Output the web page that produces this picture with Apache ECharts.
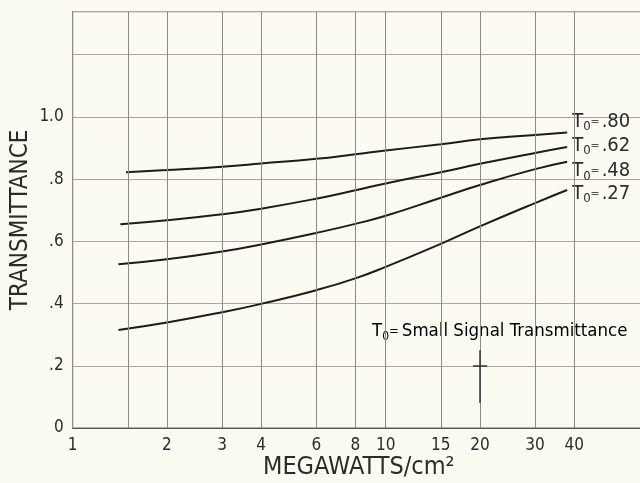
<!DOCTYPE html>
<html>
<head>
<meta charset="utf-8">
<title>Transmittance</title>
<script src="https://cdn.jsdelivr.net/npm/echarts@6/dist/echarts.min.js"></script>
<style>
html, body { margin: 0; padding: 0; background: #fbfbf2; }
#main { width: 640px; height: 483px; }
</style>
</head>
<body>
<div id="main"></div>
<script type="text/javascript">
// megawatts/cm2 readings and transmittance, one pair of arrays per T0 curve
var x80 = [1.48, 2, 3, 4, 6, 8, 10, 15, 20, 30, 38];
var t80 = [.822, .829, .840, .850, .865, .880, .892, .912, .928, .942, .950];
var x62 = [1.42, 2, 3, 4, 6, 8, 10, 15, 20, 30, 38];
var t62 = [.655, .668, .687, .705, .737, .764, .786, .822, .849, .884, .903];
var x48 = [1.4, 2, 3, 4, 6, 8, 10, 15, 20, 30, 38];
var t48 = [.526, .542, .567, .590, .627, .656, .682, .740, .781, .832, .856];
var x27 = [1.4, 2, 3, 4, 6, 8, 10, 15, 20, 30, 38];
var t27 = [.315, .339, .372, .399, .443, .481, .518, .592, .648, .723, .765];
var curveNames = ['.80', '.62', '.48', '.27'];

// x grid lines and their labels (1.5 has no label)
var xTicks = [1, 1.5, 2, 3, 4, 6, 8, 10, 15, 20, 30, 40];
var xTickLabels = ['1', '', '2', '3', '4', '6', '8', '10', '15', '20', '30', '40'];

var FONT = '"DejaVu Sans Condensed", "DejaVu Sans", sans-serif';
var INK = '#2b2b2b';

function pairs(xs, ys) {
    var out = [];
    for (var i = 0; i < xs.length; i++) out.push([xs[i], ys[i]]);
    return out;
}

var curveRich = {
    t: { fontFamily: FONT, fontSize: 20, color: INK },
    s: { fontFamily: FONT, fontSize: 13, color: INK, padding: [11, 0, 0, 0] },
    e: { fontFamily: FONT, fontSize: 12, color: '#555', padding: [0, 2, 0, 0] }
};
var noteRich = {
    t: { fontFamily: FONT, fontSize: 18.5, color: INK },
    s: { fontFamily: FONT, fontSize: 12, color: INK, padding: [10, 0, 0, 0] },
    e: { fontFamily: FONT, fontSize: 13, color: INK, padding: [0, 3, 0, 0] }
};

// vertical grid lines drawn at the log-axis values
var gridLines = [];
for (var i = 0; i < xTicks.length; i++) {
    gridLines.push({
        xAxis: xTicks[i],
        label: { show: xTickLabels[i] !== '', formatter: xTickLabels[i] }
    });
}
// leader mark under the note
var leader = { color: '#333', width: 1.5, type: 'solid' };
gridLines.push([{ coord: [20, 0.25], lineStyle: leader, label: { show: false } }, { coord: [20, 0.08] }]);
gridLines.push([{ coord: [19, 0.2], lineStyle: leader, label: { show: false } }, { coord: [21.1, 0.2] }]);

var labelOffsets = [-11, -1.5, 9, 3.5];
var xs = [x80, x62, x48, x27];
var ts = [t80, t62, t48, t27];
var series = [];
for (var k = 0; k < 4; k++) {
    series.push({
        name: curveNames[k],
        type: 'line',
        data: pairs(xs[k], ts[k]),
        smooth: 0.5,
        symbol: 'none',
        lineStyle: { color: '#1c1c1c', width: 2 },
        endLabel: {
            show: true,
            distance: 5,
            offset: [0, labelOffsets[k]],
            formatter: '{t|T}{s|0}{e|=}{t|' + curveNames[k] + '}',
            rich: curveRich
        },
        z: 3
    });
}
series.push({
    type: 'line',
    data: [],
    markLine: {
        silent: true,
        symbol: 'none',
        animation: false,
        lineStyle: { color: '#8e8a8a', width: 1, type: 'solid' },
        label: {
            position: 'start',
            distance: 9,
            color: INK,
            fontFamily: FONT,
            fontSize: 17
        },
        emphasis: { disabled: true },
        data: gridLines
    },
    z: 1
});

var chart = echarts.init(document.getElementById('main'));
chart.setOption({
    animation: false,
    backgroundColor: '#fbfbf2',
    grid: {
        left: 72.7, top: 11.7, bottom: 55, right: -58.7,
        outerBoundsMode: 'none',
        containLabel: false,
        show: true, borderColor: '#6f6b6b', borderWidth: 1
    },
    xAxis: {
        type: 'log', logBase: 10, min: 1, max: 100,
        axisLine: { show: true, lineStyle: { color: '#555', width: 1 } },
        axisTick: { show: false },
        axisLabel: { show: false },
        splitLine: { show: false }
    },
    yAxis: {
        type: 'value', min: 0, max: 1.338, interval: 0.2,
        name: 'TRANSMITTANCE',
        nameLocation: 'middle',
        nameGap: 40,
        nameMoveOverlap: false,
        nameTextStyle: { fontFamily: FONT, fontSize: 24, color: INK },
        axisLine: { show: true, lineStyle: { color: '#555', width: 1 } },
        axisTick: { show: false },
        axisLabel: {
            margin: 9,
            fontFamily: FONT, fontSize: 17, color: INK,
            padding: [0, 0, 10, 0],
            formatter: function (v) {
                if (v === 0) return '0';
                if (Math.abs(v - 1) < 1e-6) return '1.0';
                if (v > 1.1) return '';
                return '.' + Math.round(v * 10);
            }
        },
        splitLine: { show: true, lineStyle: { color: '#b49ea8', width: 1 } }
    },
    graphic: [
        {
            type: 'text', left: 263, top: 455,
            style: { text: 'MEGAWATTS/cm²', fontFamily: FONT, fontSize: 25, fill: INK }
        },
        {
            type: 'text', left: 372, top: 322,
            style: {
                text: '{t|T}{s|0}{e|=}{t|Small Signal Transmittance}',
                rich: noteRich
            }
        }
    ],
    series: series
});
</script>
</body>
</html>
